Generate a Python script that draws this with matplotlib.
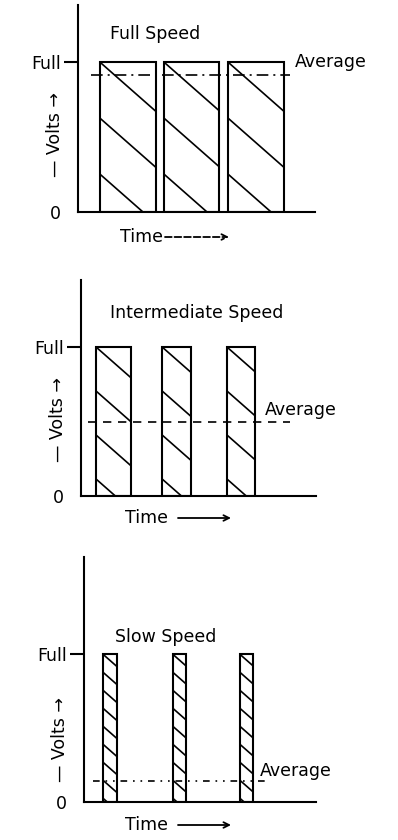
import matplotlib
matplotlib.use("Agg")
import matplotlib.pyplot as plt
from matplotlib.lines import Line2D
import numpy as np

# ---------------- data ----------------
panel_titles = ["Full Speed", "Intermediate Speed", "Slow Speed"]
pulse_starts = [[0.34, 1.34, 2.34], [0.23, 1.24, 2.23], [0.28, 1.30, 2.28]]
pulse_widths = [[0.87, 0.86, 0.87], [0.53, 0.44, 0.43], [0.20, 0.19, 0.19]]
pulse_level = 1.0                       # "Full"
average_levels = [0.91, 0.50, 0.14]
average_spans = [(0.20, 3.31), (0.11, 3.19), (0.13, 2.69)]
x_limits = [3.70, 3.59, 3.39]
y_limits = [1.38, 1.45, 1.66]
y_tick_values = [0, 1]
y_tick_labels = ["0", "Full"]
x_label = "Time"
y_label = "— Volts →"
avg_label = "Average"

# ---------------- layout / style ----------------
W, H, DPI = 398, 840, 100
# axes boxes in pixels: left, right, top, bottom (image coords)
boxes = [(78, 315, 5, 212), (81, 316, 280, 496), (84, 316, 557, 802)]
avg_styles = [(0, (7, 3, 1.2, 3)), (0, (5, 4)), (0, (4, 3.5, 1, 3.5, 1, 3.5))]
hatch_gap_px = [56, 44, 18]
hatch_slope = 0.88
title_pos = [(110, 34), (110, 313), (115, 637)]
avg_text_pos = [(295, 62), (265, 410), (260, 771)]
volts_pos = [(55, 135), (58, 420), (60, 740)]
time_pos = [(120, 237), (125, 518), (125, 825)]
arrow_spans = [(165, 229), (178, 231), (178, 231)]
arrow_dashed = [True, False, False]
FS = 12.5
LW = 1.5

fig = plt.figure(figsize=(W / DPI, H / DPI), dpi=DPI)
fig.patch.set_facecolor("white")

for i in range(3):
    l, r, t, b = boxes[i]
    ax = fig.add_axes([l / W, 1 - b / H, (r - l) / W, (b - t) / H])
    ax.set_xlim(0, x_limits[i])
    ax.set_ylim(0, y_limits[i])
    ax.set_facecolor("none")
    for s in ["top", "right"]:
        ax.spines[s].set_visible(False)
    for s in ["left", "bottom"]:
        ax.spines[s].set_linewidth(LW)
    ax.set_xticks([])
    ax.set_yticks(y_tick_values)
    ax.set_yticklabels(y_tick_labels, fontsize=FS)
    ax.tick_params(axis="y", length=10, width=LW, pad=2)
    ax.yaxis.get_major_ticks()[0].tick1line.set_visible(False)

    bars = ax.bar(pulse_starts[i], [pulse_level] * len(pulse_starts[i]),
                  width=pulse_widths[i], align="edge", fill=False,
                  edgecolor="black", linewidth=LW, zorder=3)

    # sparse hand-drawn style hatching, clipped to each pulse
    inv = ax.transData.inverted()
    gap = hatch_gap_px[i]
    for p in bars.patches:
        (x0, y0) = ax.transData.transform((p.get_x(), p.get_y()))
        (x1, y1) = ax.transData.transform((p.get_x() + p.get_width(),
                                           p.get_y() + p.get_height()))
        w = x1 - x0
        h = y1 - y0
        kmin = -int(np.ceil(hatch_slope * w / gap)) - 1
        kmax = int(np.ceil(h / gap)) + 1
        for k in range(kmin, kmax + 1):
            ya = y1 - k * gap
            yb = ya - hatch_slope * w
            pts = inv.transform([(x0, ya), (x1, yb)])
            ln = Line2D(pts[:, 0], pts[:, 1], color="black", lw=1.2, zorder=2)
            ax.add_line(ln)
            ln.set_clip_path(p)

    a0, a1 = average_spans[i]
    ax.plot([a0, a1], [average_levels[i]] * 2, color="black", lw=1.2,
            linestyle=avg_styles[i], zorder=4, clip_on=False)

    # texts
    tx, ty = title_pos[i]
    fig.text(tx / W, 1 - ty / H, panel_titles[i], fontsize=FS,
             ha="left", va="center")
    ax_, ay_ = avg_text_pos[i]
    fig.text(ax_ / W, 1 - ay_ / H, avg_label, fontsize=FS,
             ha="left", va="center")
    vx, vy = volts_pos[i]
    fig.text(vx / W, 1 - vy / H, y_label, fontsize=FS, rotation=90,
             ha="center", va="center")
    mx, my = time_pos[i]
    fig.text(mx / W, 1 - my / H, x_label, fontsize=FS, ha="left",
             va="center")
    s0, s1 = arrow_spans[i]
    ax.annotate("", xy=(s1, H - my), xytext=(s0, H - my),
                xycoords="figure pixels", textcoords="figure pixels",
                annotation_clip=False,
                arrowprops=dict(arrowstyle="->", lw=1.3, color="black",
                                linestyle="--" if arrow_dashed[i] else "-",
                                shrinkA=0, shrinkB=0))

fig.savefig("out.png", dpi=DPI, facecolor="white")
